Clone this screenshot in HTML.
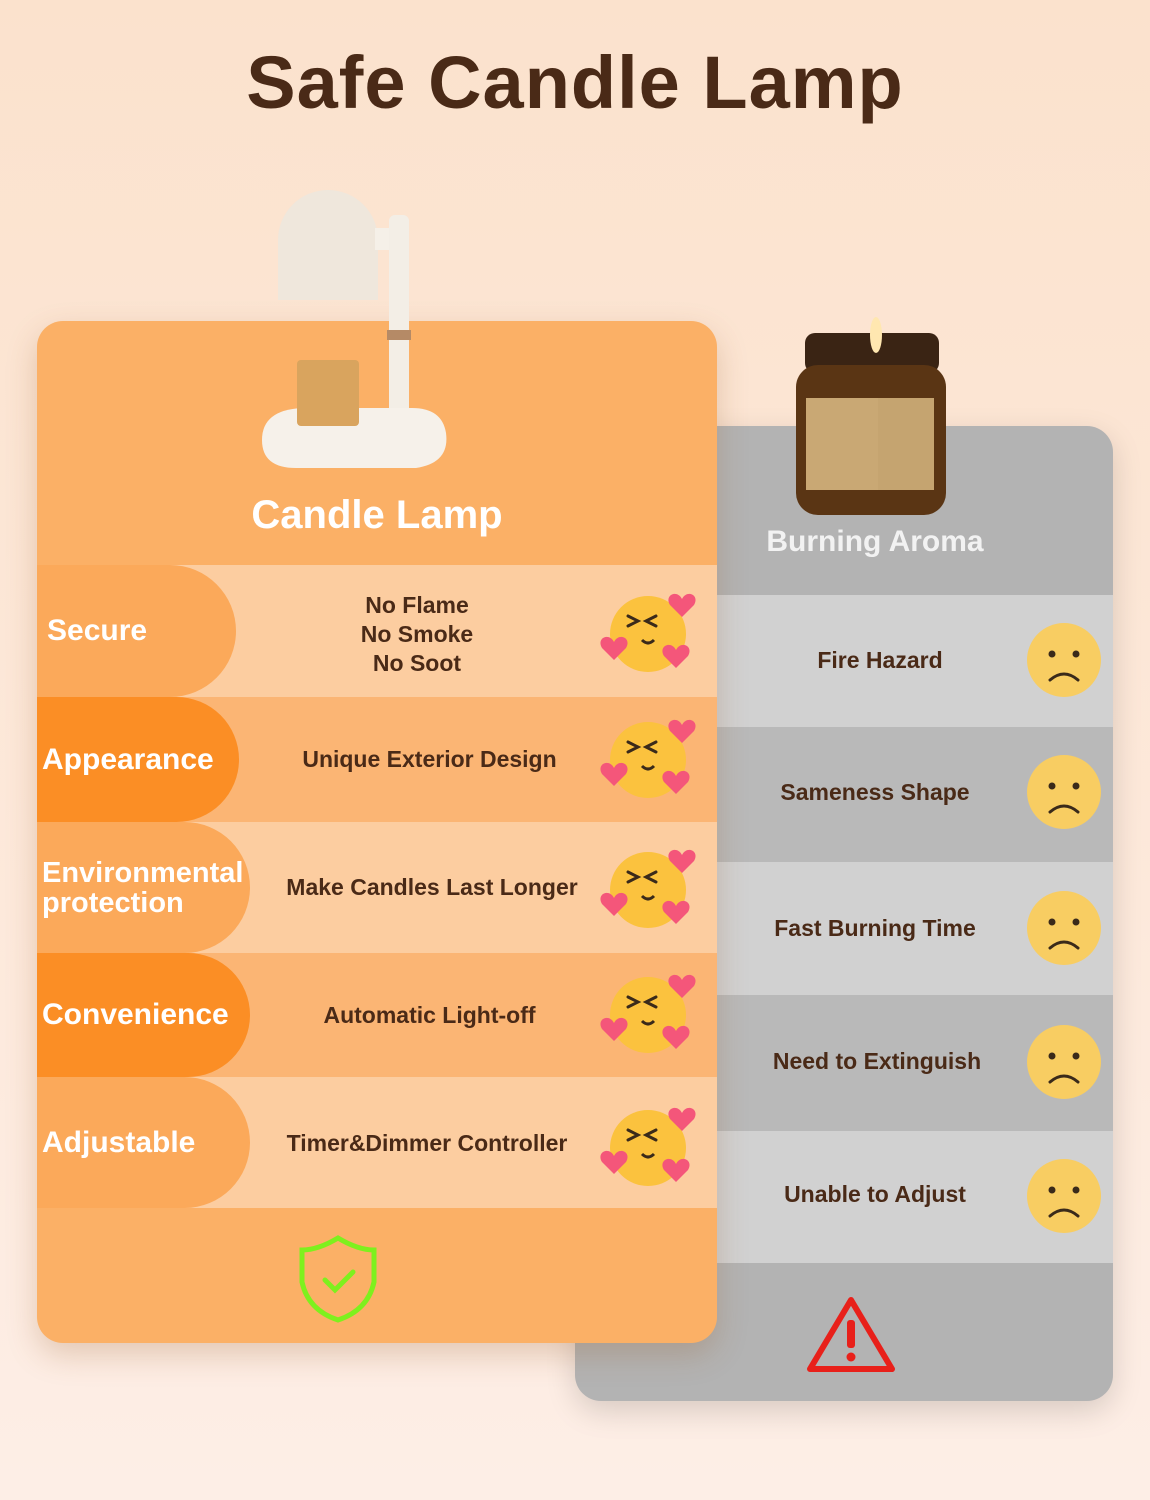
<!DOCTYPE html>
<html><head><meta charset="utf-8"><style>
*{margin:0;padding:0;box-sizing:border-box}
body{width:1150px;height:1500px;overflow:hidden;background:linear-gradient(#fbe2cd,#fde9db 60%,#fdeee6);font-family:"Liberation Sans",sans-serif;position:relative}
.abs{position:absolute}
h1{position:absolute;top:40px;left:0;width:1150px;text-align:center;font-size:74px;font-weight:bold;color:#4a2a17;letter-spacing:1px}
.gray{left:575px;top:426px;width:538px;height:975px;border-radius:26px;background:#b3b3b3;overflow:hidden;box-shadow:0 10px 30px rgba(0,0,0,.15)}
.orange{left:37px;top:321px;width:680px;height:1022px;border-radius:26px;background:#fbb066;overflow:hidden;box-shadow:0 12px 30px rgba(150,90,40,.25)}
.row{position:absolute;left:0;width:100%}
.pill{position:absolute;left:0;top:0;height:100%;border-radius:0 70px 70px 0;color:#fff;font-weight:bold;font-size:30px;display:flex;align-items:center;padding-left:8px;line-height:30px}
.t{position:absolute;font-weight:bold;color:#4a2a17;font-size:23px;text-align:center;line-height:29px}
.gt{position:absolute;font-weight:bold;color:#4a2a17;font-size:23px;text-align:center;width:320px;left:140px}
</style></head><body>
<h1>Safe Candle Lamp</h1>

<div class="abs gray">
 <div class="row" style="top:169px;height:132px;background:#d1d1d1"></div>
 <div class="row" style="top:301px;height:135px;background:#b9b9b9"></div>
 <div class="row" style="top:436px;height:133px;background:#d1d1d1"></div>
 <div class="row" style="top:569px;height:136px;background:#b9b9b9"></div>
 <div class="row" style="top:705px;height:132px;background:#d1d1d1"></div>
 <div class="abs" style="left:140px;top:99px;width:320px;text-align:center;color:#f2f2f2;font-weight:bold;font-size:30px">Burning Aroma</div>
 <div class="gt" style="top:221px;left:145px">Fire Hazard</div>
 <div class="gt" style="top:353px;left:140px">Sameness Shape</div>
 <div class="gt" style="top:489px;left:140px">Fast Burning Time</div>
 <div class="gt" style="top:622px;left:142px">Need to Extinguish</div>
 <div class="gt" style="top:755px;left:140px">Unable to Adjust</div>
</div>
<svg class="abs" style="left:0;top:0" width="1150" height="1500">
 <g fill="#f8cd62" stroke="none">
  <circle cx="1064" cy="660" r="37"/><circle cx="1064" cy="792" r="37"/><circle cx="1064" cy="928" r="37"/><circle cx="1064" cy="1062" r="37"/><circle cx="1064" cy="1196" r="37"/>
 </g>
 <g stroke="#3a2a1a" stroke-width="3" fill="none" stroke-linecap="round">
  <path d="M1050 680 q14 -12 28 0"/><path d="M1050 812 q14 -12 28 0"/><path d="M1050 948 q14 -12 28 0"/><path d="M1050 1082 q14 -12 28 0"/><path d="M1050 1216 q14 -12 28 0"/>
 </g>
 <g fill="#3a2a1a">
  <circle cx="1052" cy="654" r="3.5"/><circle cx="1076" cy="654" r="3.5"/>
  <circle cx="1052" cy="786" r="3.5"/><circle cx="1076" cy="786" r="3.5"/>
  <circle cx="1052" cy="922" r="3.5"/><circle cx="1076" cy="922" r="3.5"/>
  <circle cx="1052" cy="1056" r="3.5"/><circle cx="1076" cy="1056" r="3.5"/>
  <circle cx="1052" cy="1190" r="3.5"/><circle cx="1076" cy="1190" r="3.5"/>
 </g>
 <path d="M851 1300 L892 1369 L810 1369 Z" fill="none" stroke="#e8201a" stroke-width="6" stroke-linejoin="round"/>
 <rect x="847" y="1320" width="8" height="28" rx="3" fill="#e8201a"/><circle cx="851" cy="1357" r="4.5" fill="#e8201a"/>
 <rect x="805" y="333" width="134" height="40" rx="10" fill="#3a2414"/>
 <rect x="796" y="365" width="150" height="150" rx="22" fill="#5a3514"/>
 <rect x="806" y="398" width="72" height="92" fill="#c9a874"/>
 <rect x="878" y="398" width="56" height="92" fill="#c5a470"/>
 <ellipse cx="876" cy="335" rx="6" ry="18" fill="#ffe7b0"/>
</svg>

<div class="abs orange">
 <div class="row" style="top:244px;height:132px;background:#fccda0"><div class="pill" style="width:199px;background:#fba95a;padding-left:10px">Secure</div></div>
 <div class="row" style="top:376px;height:125px;background:#fbb574"><div class="pill" style="width:202px;background:#fb8e25;padding-left:5px">Appearance</div></div>
 <div class="row" style="top:501px;height:131px;background:#fccda0"><div class="pill" style="width:213px;background:#fba95a;padding-left:5px;font-size:29px">Environmental<br>protection</div></div>
 <div class="row" style="top:632px;height:124px;background:#fbb574"><div class="pill" style="width:213px;background:#fb8e25;padding-left:5px">Convenience</div></div>
 <div class="row" style="top:756px;height:131px;background:#fccda0"><div class="pill" style="width:213px;background:#fba95a;padding-left:5px">Adjustable</div></div>
 <div class="abs" style="left:130px;top:172px;width:420px;text-align:center;color:#fff;font-weight:bold;font-size:40px">Candle Lamp</div>
 <div class="t" style="left:260px;top:270px;width:240px">No Flame<br>No Smoke<br>No Soot</div>
 <div class="t" style="left:230px;top:424px;width:325px">Unique Exterior Design</div>
 <div class="t" style="left:230px;top:552px;width:330px">Make Candles Last Longer</div>
 <div class="t" style="left:230px;top:680px;width:325px">Automatic Light-off</div>
 <div class="t" style="left:220px;top:808px;width:340px">Timer&amp;Dimmer Controller</div>
</div>

<svg class="abs" style="left:0;top:0" width="1150" height="1500">
 <defs><g id="em">
  <circle cx="0" cy="0" r="38" fill="#fbc23e"/>
  <path d="M-20 -8 l10 -5 -10 -5 M8 -18 l-10 5 10 5" stroke="#3a2a1a" stroke-width="3" fill="none" stroke-linecap="round"/>
  <path d="M-6 6 q6 6 12 0" stroke="#3a2a1a" stroke-width="3" fill="none"/>
  <path d="M34 -35 c5 -10 18 -4 12 6 l-12 12 -12 -12 c-6 -10 7 -16 12 -6z" fill="#f4567a"/>
  <path d="M-34 8 c5 -10 18 -4 12 6 l-12 12 -12 -12 c-6 -10 7 -16 12 -6z" fill="#f4567a"/>
  <path d="M28 16 c5 -10 18 -4 12 6 l-12 12 -12 -12 c-6 -10 7 -16 12 -6z" fill="#f4567a"/>
 </g></defs>
 <use href="#em" x="648" y="634"/><use href="#em" x="648" y="760"/><use href="#em" x="648" y="890"/><use href="#em" x="648" y="1015"/><use href="#em" x="648" y="1148"/>
 <path d="M338 1238 q20 12 36 12 v32 q-6 28 -36 38 q-30 -10 -36 -38 v-32 q16 0 36 -12z" fill="none" stroke="#7ef01e" stroke-width="5"/>
 <path d="M325 1280 l10 10 18 -18" fill="none" stroke="#7ef01e" stroke-width="5" stroke-linecap="round"/>
 <path d="M278 300 v-60 a50 50 0 0 1 100 0 v60z" fill="#efe7dc"/>
 <rect x="375" y="228" width="18" height="22" fill="#f5f0e8"/>
 <rect x="389" y="215" width="20" height="225" rx="6" fill="#f3eee6"/>
 <rect x="387" y="330" width="24" height="10" fill="#b58a66"/>
 <path d="M262 440 q0 -30 40 -32 h110 q30 0 34 25 q4 30 -30 35 h-120 q-34 0 -34 -28z" fill="#f6f1ea"/>
 <rect x="297" y="360" width="62" height="66" rx="4" fill="#d9a45e"/>
</svg>
</body></html>
